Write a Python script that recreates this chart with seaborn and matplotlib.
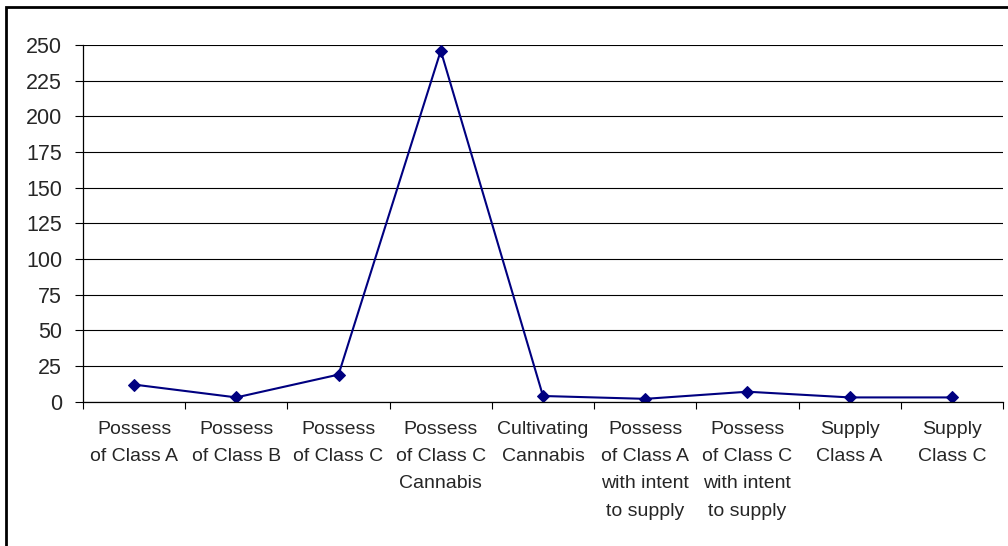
import matplotlib
matplotlib.use("Agg")
import matplotlib.pyplot as plt
import seaborn as sns
import pandas as pd
import numpy as np
from matplotlib.patches import Rectangle
from matplotlib.ticker import FixedLocator

categories = [
    "Possess\nof Class A",
    "Possess\nof Class B",
    "Possess\nof Class C",
    "Possess\nof Class C\nCannabis",
    "Cultivating\nCannabis",
    "Possess\nof Class A\nwith intent\nto supply",
    "Possess\nof Class C\nwith intent\nto supply",
    "Supply\nClass A",
    "Supply\nClass C",
]
values = [12, 3, 19, 246, 4, 2, 7, 3, 3]
y_ticks = [0, 25, 50, 75, 100, 125, 150, 175, 200, 225, 250]

sns.set_theme(style="white")
plt.rcParams['font.family'] = ['Liberation Sans', 'DejaVu Sans']

df = pd.DataFrame({"cat": categories, "val": values})
df["pos"] = np.arange(len(categories))

fig = plt.figure(figsize=(10.08, 5.46), dpi=100)
ax = fig.add_axes([83/1008, 1 - 401.7/546, (1003-83)/1008, (401.7-45)/546])

sns.lineplot(data=df, x="pos", y="val", ax=ax, color="#000080", linewidth=1.5,
             marker="D", markersize=6.5, markeredgecolor="#000080", sort=False)

ax.set_xlim(-0.5, len(categories) - 0.5)
ax.set_ylim(0, 250)
ax.set_yticks(y_ticks)
ax.yaxis.grid(True, color="black", linewidth=0.8)
ax.set_axisbelow(True)
ax.set_xticks(df["pos"])
ax.set_xticklabels(categories, fontsize=14, linespacing=1.78, va="top")
ax.xaxis.set_minor_locator(FixedLocator(np.arange(-0.5, len(categories), 1.0)))
ax.tick_params(axis="x", which="major", length=0, pad=14)
ax.tick_params(axis="x", which="minor", length=5, width=0.8, color="black", bottom=True)
ax.tick_params(axis="y", which="major", length=6, width=0.8, color="black", left=True,
               labelsize=15.5, pad=9)
ax.set_xlabel("")
ax.set_ylabel("")
for s in ["top", "right"]:
    ax.spines[s].set_visible(False)
for s in ["left", "bottom"]:
    ax.spines[s].set_color("black")
    ax.spines[s].set_linewidth(0.9)

fig.patches.append(Rectangle((6/1008, -0.1), 1.2, 1 - 7/546 + 0.1, transform=fig.transFigure,
                             fill=False, edgecolor="black", linewidth=2))

fig.savefig("out.png", dpi=100)
